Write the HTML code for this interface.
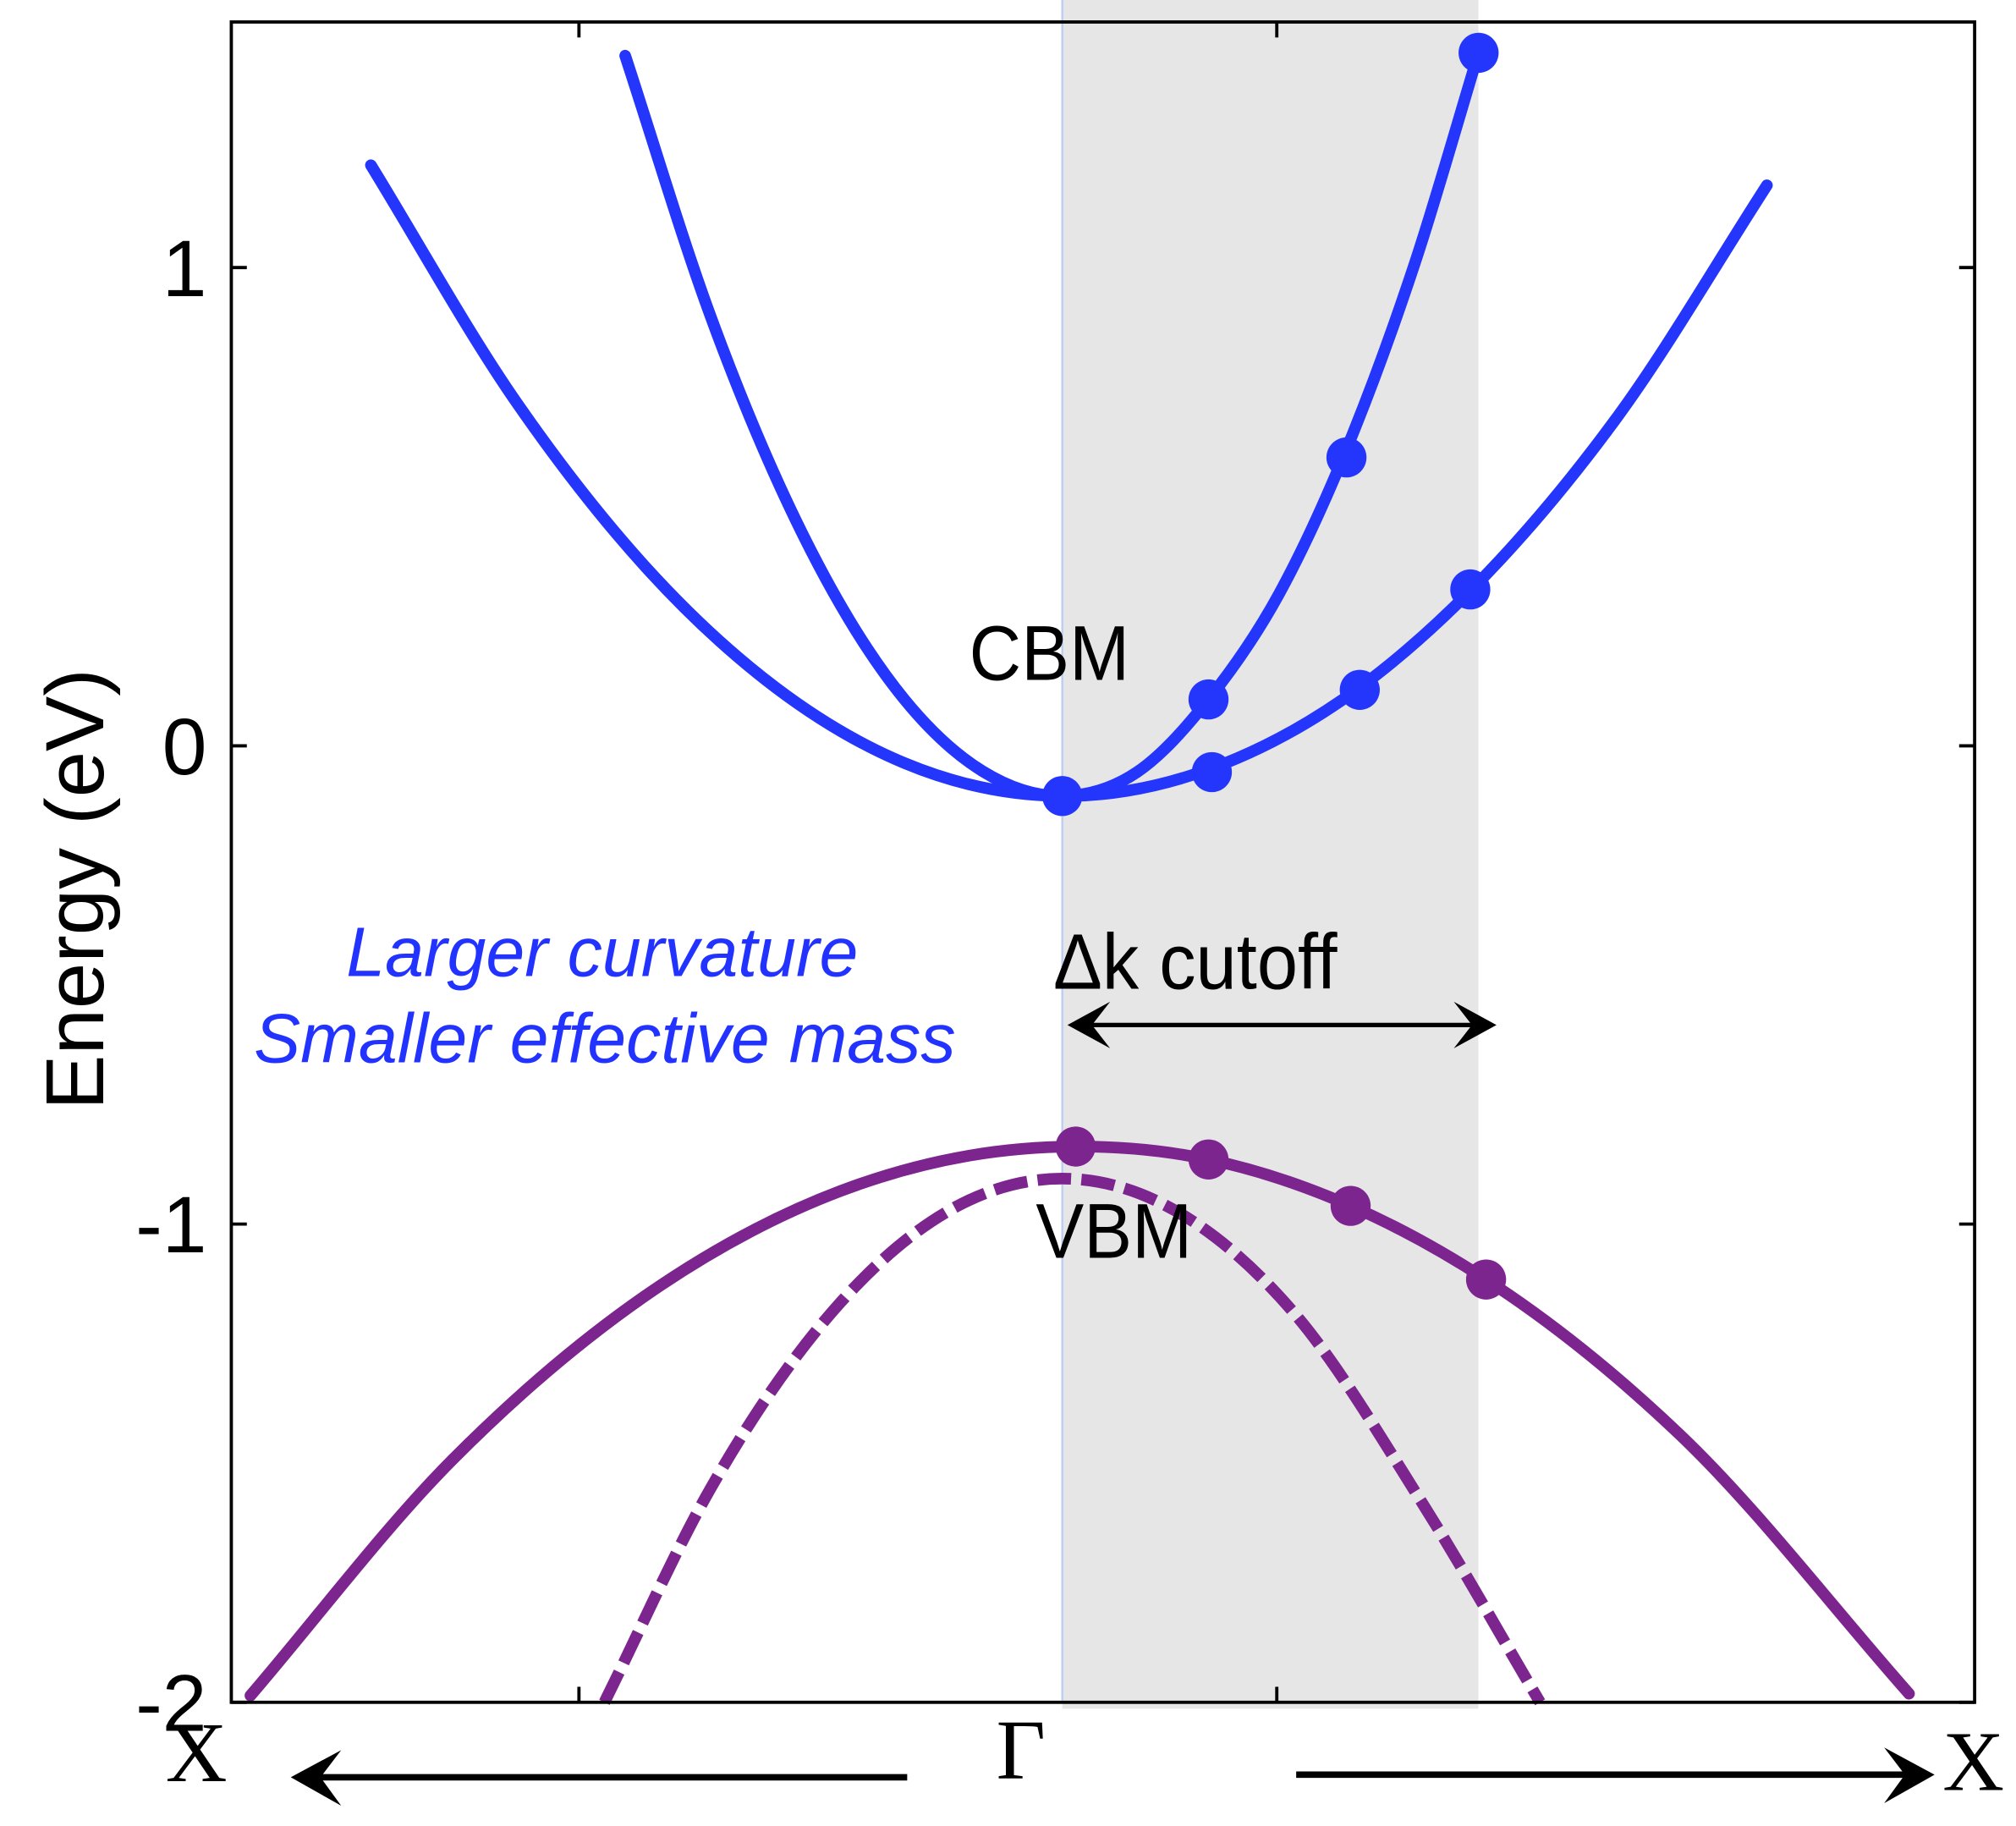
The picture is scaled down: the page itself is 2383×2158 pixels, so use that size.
<!DOCTYPE html>
<html><head><meta charset="utf-8"><style>
html,body{margin:0;padding:0;background:#fff;}
svg{display:block;}
text{font-family:"Liberation Sans",Arial,sans-serif;}
</style></head><body>
<svg id="chart" width="2383" height="2158" viewBox="0 0 1560 1412.7" xmlns="http://www.w3.org/2000/svg">
<rect x="822" y="0" width="322" height="1322" fill="#e6e6e6"/>
<line x1="822" y1="0" x2="822" y2="1317" stroke="#b9cdf2" stroke-width="1.5"/>
<g id="curves"></g>
<g id="dots"></g>
<rect x="179" y="17" width="1349" height="1300" fill="none" stroke="#000" stroke-width="2.5"/>
<g id="ticks" stroke="#000" stroke-width="2.5"></g>
<g id="ylabels"></g>
<text transform="translate(80,688) rotate(-90)" text-anchor="middle" font-size="64">Energy (eV)</text>
<text x="812" y="526" text-anchor="middle" font-size="60" transform="translate(812,0) scale(0.93,1) translate(-812,0)">CBM</text>
<text x="862" y="973" text-anchor="middle" font-size="60" transform="translate(862,0) scale(0.93,1) translate(-862,0)">VBM</text>
<text x="815" y="765" font-size="61" transform="translate(815,0) scale(0.93,1) translate(-815,0)">Δk cutoff</text>
<g>
<line x1="830" y1="793" x2="1153" y2="793" stroke="#000" stroke-width="3.5"/>
<path d="M826,793 L859,775 L845,793 L859,811 Z" fill="#000"/>
<path d="M1158,793 L1125,775 L1139,793 L1125,811 Z" fill="#000"/>
</g>
<text x="466" y="755" text-anchor="middle" font-size="54" font-style="italic" fill="#2233ff">Larger curvature</text>
<text x="468" y="822" text-anchor="middle" font-size="54" font-style="italic" fill="#2233ff">Smaller effective mass</text>
<text x="152" y="1378" text-anchor="middle" font-size="66" style="font-family:'Liberation Serif',serif">X</text>
<text x="790" y="1376" text-anchor="middle" font-size="66" style="font-family:'Liberation Serif',serif">Γ</text>
<text x="1527" y="1385" text-anchor="middle" font-size="66" style="font-family:'Liberation Serif',serif">X</text>
<g>
<line x1="232" y1="1375" x2="702" y2="1375" stroke="#000" stroke-width="5"/>
<path d="M225,1375 L264,1354 L248,1375 L264,1397 Z" fill="#000"/>
</g>
<g>
<line x1="1003" y1="1373" x2="1490" y2="1373" stroke="#000" stroke-width="5"/>
<path d="M1497,1373 L1458,1352 L1474,1373 L1458,1395 Z" fill="#000"/>
</g>
</svg>
<script>
const cbWideK=[-0.832,-0.656,-0.501,-0.345,-0.190,0,0.180,0.358,0.491,0.666,0.848];
const cbWideE=[1.214,0.716,0.373,0.122,-0.036,-0.105,-0.047,0.122,0.324,0.683,1.172];
const cbNarrowK=[-0.526,-0.423,-0.314,-0.190,-0.096,0,0.090,0.176,0.261,0.342,0.425,0.501];
const cbNarrowE=[1.443,0.897,0.448,0.097,-0.053,-0.105,-0.055,0.097,0.318,0.620,1.013,1.449];
const vbK=[-0.977,-0.734,-0.501,-0.267,-0.112,0.016,0.176,0.347,0.510,0.743,1.019];
const vbE=[-1.986,-1.493,-1.149,-0.931,-0.857,-0.838,-0.865,-0.962,-1.116,-1.440,-1.982];
const vbDashK=[-0.551,-0.423,-0.267,-0.112,0,0.121,0.277,0.432,0.575];
const vbDashE=[-2.0,-1.552,-1.164,-0.950,-0.905,-0.958,-1.182,-1.580,-2.0];
const cbWideDotK=[0,0.180,0.358,0.491];
const cbWideDotE=[-0.105,-0.055,0.117,0.327];
const cbNarrowDotK=[0.176,0.342,0.501];
const cbNarrowDotE=[0.097,0.603,1.449];
const vbDotK=[0.016,0.176,0.347,0.510];
const vbDotE=[-0.838,-0.865,-0.962,-1.116];
const yTicks=[1,0,-1,-2];
const yTickLabels=["1","0","-1","-2"];

const NS="http://www.w3.org/2000/svg";
function xs(k){return 822+k*643;}
function ys(e){return 577-e*370;}
function smooth(K,E){
  const p=K.map((k,i)=>[xs(k),ys(E[i])]);
  const n=p.length, m=[];
  for(let i=0;i<n;i++){
    const a=p[Math.max(i-1,0)], b=p[Math.min(i+1,n-1)];
    if(i===0||i===n-1){ m.push((b[1]-a[1])/(b[0]-a[0])); }
    else{
      const s0=(p[i][1]-p[i-1][1])/(p[i][0]-p[i-1][0]);
      const s1=(p[i+1][1]-p[i][1])/(p[i+1][0]-p[i][0]);
      const h0=p[i][0]-p[i-1][0], h1=p[i+1][0]-p[i][0];
      m.push((s0*h1+s1*h0)/(h0+h1));
    }
  }
  let d="M"+p[0][0]+","+p[0][1];
  for(let i=0;i<n-1;i++){
    const h=(p[i+1][0]-p[i][0])/3;
    d+=" C"+(p[i][0]+h)+","+(p[i][1]+m[i]*h)+" "+(p[i+1][0]-h)+","+(p[i+1][1]-m[i+1]*h)+" "+p[i+1][0]+","+p[i+1][1];
  }
  return d;
}
const curves=document.getElementById('curves');
function addCurve(K,E,color,name,dash){
  const el=document.createElementNS(NS,'path');
  el.setAttribute('d',smooth(K,E));el.setAttribute('fill','none');
  el.setAttribute('stroke',color);el.setAttribute('stroke-width','9');
  if(dash){el.setAttribute('stroke-dasharray',dash);el.setAttribute('stroke-linecap','butt');}
  else el.setAttribute('stroke-linecap','round');
  
  
  curves.appendChild(el);
}
const BLUE="#2436fb",PURP="#7d258f";
addCurve(cbWideK,cbWideE,BLUE,'cb-wide-band');
addCurve(cbNarrowK,cbNarrowE,BLUE,'cb-narrow-band');
addCurve(vbK,vbE,PURP,'vb-solid-band');
addCurve(vbDashK,vbDashE,PURP,'vb-dashed-band','26 8');
const dots=document.getElementById('dots');
function addDots(K,E,color,name){
  K.forEach((k,i)=>{
    const c=document.createElementNS(NS,'circle');
    c.setAttribute('cx',xs(k));c.setAttribute('cy',ys(E[i]));
    c.setAttribute('r',15.5);c.setAttribute('fill',color);
    
    
    dots.appendChild(c);
  });
}
addDots(cbWideDotK,cbWideDotE,BLUE,'cb-wide-point');
addDots(cbNarrowDotK,cbNarrowDotE,BLUE,'cb-narrow-point');
addDots(vbDotK,vbDotE,PURP,'vb-point');
const ticks=document.getElementById('ticks'),yl=document.getElementById('ylabels');
yTicks.forEach((v,i)=>{
  const y=ys(v);
  [[179,y,191,y],[1516,y,1528,y]].forEach(a=>{
    const l=document.createElementNS(NS,'line');
    l.setAttribute('x1',a[0]);l.setAttribute('y1',a[1]);l.setAttribute('x2',a[2]);l.setAttribute('y2',a[3]);
    
    
    ticks.appendChild(l);
  });
  const t=document.createElementNS(NS,'text');
  t.setAttribute('x',160);t.setAttribute('y',y+22);t.setAttribute('text-anchor','end');
  t.setAttribute('font-size','62');t.textContent=yTickLabels[i];
  
  
  yl.appendChild(t);
});
[448,988].forEach(x=>{
  [[x,17,x,29],[x,1305,x,1317]].forEach(a=>{
    const l=document.createElementNS(NS,'line');
    l.setAttribute('x1',a[0]);l.setAttribute('y1',a[1]);l.setAttribute('x2',a[2]);l.setAttribute('y2',a[3]);
    
    
    ticks.appendChild(l);
  });
});
</script>
</body></html>
